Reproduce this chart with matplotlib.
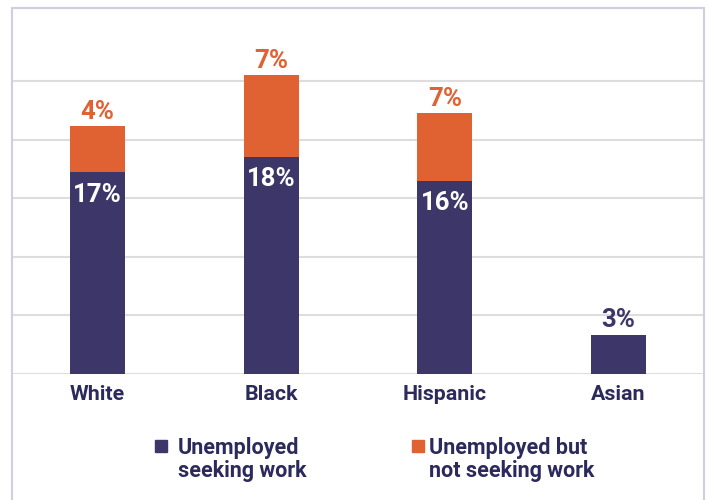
import matplotlib
matplotlib.use("Agg")
import matplotlib.pyplot as plt
from matplotlib.patches import Rectangle

categories = ["White", "Black", "Hispanic", "Asian"]
seeking = [17.2, 18.5, 16.5, 3.3]
not_seeking = [4.0, 7.0, 5.75, 0.0]
seeking_labels = ["17%", "18%", "16%", "3%"]
not_seeking_labels = ["4%", "7%", "7%", ""]
series_names = ["Unemployed\nseeking work", "Unemployed but\nnot seeking work"]
grid_ticks = [0, 5, 10, 15, 20, 25]

NAVY = "#3c3768"
ORANGE = "#e06233"
TEXT = "#2c2a5c"
GRID = "#dddddd"
BORDER = "#d0cee0"

plt.rcParams['font.family'] = ['Roboto', 'DejaVu Sans']

W, H = 707, 500
fig = plt.figure(figsize=(W / 100, H / 100), dpi=100)

def fx(px):
    return px / W

def fy(py):
    return 1 - py / H

# outer border
fig.patches.append(Rectangle((fx(11.7), -0.1), fx(704.3) - fx(11.7), fy(8.3) + 0.1,
                             transform=fig.transFigure, fill=False,
                             edgecolor=BORDER, linewidth=1.5))

ax = fig.add_axes([fx(12.5), fy(374), fx(703.5) - fx(12.5), fy(8) - fy(374)])
px_per_unit = 11.72
ax.set_ylim(0, 366 / px_per_unit)
ax.set_xlim(-0.49, 3.49)

x = list(range(len(categories)))
bw = 0.316
ax.bar(x, seeking, width=bw, color=NAVY, zorder=2)
ax.bar(x, not_seeking, width=bw, bottom=seeking, color=ORANGE, zorder=2)

ax.set_yticks(grid_ticks)
ax.set_yticklabels([])
ax.yaxis.grid(True, color=GRID, linewidth=1.5)
ax.set_axisbelow(True)
ax.tick_params(axis='both', length=0)
for s in ax.spines.values():
    s.set_visible(False)

ax.set_xticks(x)
ax.set_xticklabels(categories, fontsize=15.4, fontweight='bold', color=TEXT)
ax.tick_params(axis='x', pad=8)

for i in x:
    top = seeking[i] + not_seeking[i]
    if not_seeking_labels[i]:
        ax.text(i, top + 0.6, not_seeking_labels[i], ha='center', va='baseline',
                fontsize=18.5, fontweight='bold', color=ORANGE)
        ax.text(i, seeking[i] - 2.5, seeking_labels[i], ha='center', va='baseline',
                fontsize=18.5, fontweight='bold', color='white')
    else:
        ax.text(i, top + 0.7, seeking_labels[i], ha='center', va='baseline',
                fontsize=18.5, fontweight='bold', color=NAVY)

# legend
legend_items = [(155, 178, NAVY, series_names[0]), (412, 429, ORANGE, series_names[1])]
for sx, tx, col, name in legend_items:
    fig.patches.append(Rectangle((fx(sx), fy(452)), fx(12), 12 / H,
                                 transform=fig.transFigure, color=col))
    for k, line in enumerate(name.split("\n")):
        fig.text(fx(tx), fy(454 + 22.7 * k), line, ha='left', va='baseline',
                 fontsize=15.5, fontweight='bold', color=TEXT)

fig.savefig("out.png", dpi=100)
